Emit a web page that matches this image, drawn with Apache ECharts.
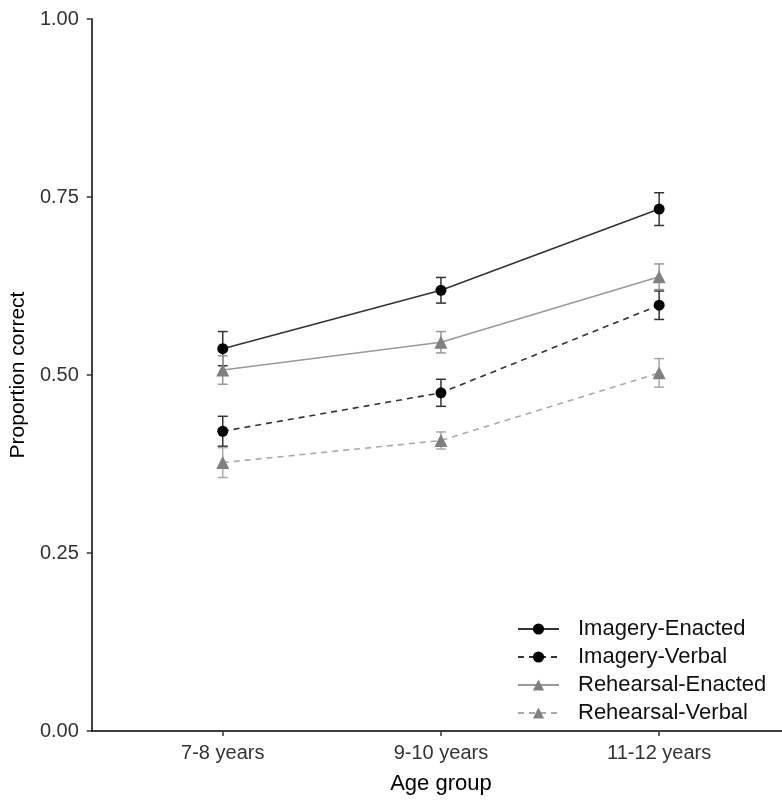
<!DOCTYPE html>
<html>
<head>
<meta charset="utf-8">
<script src="https://cdn.jsdelivr.net/npm/echarts@6/dist/echarts.min.js"></script>
<style>
html,body{margin:0;padding:0;background:#fff;}
#chart{width:782px;height:800px;}
</style>
</head>
<body>
<div id="chart"></div>
<script>
const categories = ['7-8 years', '9-10 years', '11-12 years'];
const yTicks = [0, 0.25, 0.5, 0.75, 1];
const seriesNames = ['Imagery-Enacted', 'Imagery-Verbal', 'Rehearsal-Enacted', 'Rehearsal-Verbal'];
const imageryEnacted = [0.537, 0.619, 0.733];
const imageryEnactedErr = [0.024, 0.018, 0.023];
const imageryVerbal = [0.421, 0.475, 0.598];
const imageryVerbalErr = [0.021, 0.019, 0.020];
const rehearsalEnacted = [0.507, 0.546, 0.638];
const rehearsalEnactedErr = [0.020, 0.015, 0.018];
const rehearsalVerbal = [0.377, 0.408, 0.503];
const rehearsalVerbalErr = [0.021, 0.012, 0.020];

const FONT = 'Liberation Sans, Arial, sans-serif';

const styles = [
  { line: '#333333', marker: '#000000', bar: '#333333', dash: 'solid', symbol: 'circle', size: 11 },
  { line: '#333333', marker: '#000000', bar: '#333333', dash: [6, 5], symbol: 'circle', size: 11 },
  { line: '#999999', marker: '#808080', bar: '#999999', dash: 'solid', symbol: 'triangle', size: 13 },
  { line: '#aaaaaa', marker: '#808080', bar: '#aaaaaa', dash: [6, 5], symbol: 'triangle', size: 13 }
];
const means = [imageryEnacted, imageryVerbal, rehearsalEnacted, rehearsalVerbal];
const errs = [imageryEnactedErr, imageryVerbalErr, rehearsalEnactedErr, rehearsalVerbalErr];

const series = [];
// error bars
means.forEach((m, s) => {
  series.push({
    type: 'custom',
    name: seriesNames[s] + ' err',
    silent: true,
    z: 2,
    data: m.map((v, i) => [i + 1, v, v - errs[s][i], v + errs[s][i]]),
    renderItem: function (params, api) {
      const x = api.value(0);
      const lo = api.coord([x, api.value(2)]);
      const hi = api.coord([x, api.value(3)]);
      const hw = 5;
      const st = { stroke: styles[s].bar, lineWidth: 1.5, fill: null };
      return {
        type: 'group',
        children: [
          { type: 'line', shape: { x1: lo[0], y1: lo[1], x2: hi[0], y2: hi[1] }, style: st },
          { type: 'line', shape: { x1: lo[0] - hw, y1: lo[1], x2: lo[0] + hw, y2: lo[1] }, style: st },
          { type: 'line', shape: { x1: hi[0] - hw, y1: hi[1], x2: hi[0] + hw, y2: hi[1] }, style: st }
        ]
      };
    }
  });
});
// lines
means.forEach((m, s) => {
  series.push({
    type: 'line',
    name: seriesNames[s],
    z: 3,
    data: m.map((v, i) => [i + 1, v]),
    symbol: styles[s].symbol,
    symbolSize: styles[s].size,
    showSymbol: true,
    lineStyle: { color: styles[s].line, width: 1.6, type: styles[s].dash },
    itemStyle: { color: styles[s].marker, borderWidth: 0 },
    emphasis: { disabled: true },
    animation: false
  });
});

const chart = echarts.init(document.getElementById('chart'), null, { renderer: 'canvas' });
chart.setOption({
  animation: false,
  backgroundColor: '#ffffff',
  grid: { left: 91, right: 0, top: 19, bottom: 69, containLabel: false },
  xAxis: {
    type: 'value',
    min: 0.4,
    max: 3.563,
    name: 'Age group',
    nameLocation: 'middle',
    nameGap: 42,
    nameTextStyle: { fontFamily: FONT, fontSize: 22, color: '#000', padding: [0, 0, 0, 8] },
    splitLine: { show: false },
    axisLine: { show: true, onZero: false, lineStyle: { color: '#000', width: 1.5 } },
    axisTick: { show: true, length: 5, lineStyle: { color: '#333', width: 1.5 }, customValues: [1, 2, 3] },
    axisLabel: {
      customValues: [1, 2, 3],
      formatter: v => categories[Math.round(v) - 1],
      fontFamily: FONT, fontSize: 20, color: '#333', margin: 12
    }
  },
  yAxis: {
    type: 'value',
    min: 0,
    max: 1,
    interval: 0.25,
    name: 'Proportion correct',
    nameLocation: 'middle',
    nameGap: 58,
    nameTextStyle: { fontFamily: FONT, fontSize: 21, color: '#000' },
    splitLine: { show: false },
    axisLine: { show: true, onZero: false, lineStyle: { color: '#000', width: 1.5 } },
    axisTick: { show: true, length: 5, lineStyle: { color: '#333', width: 1.5 } },
    axisLabel: {
      formatter: v => yTicks.indexOf(v) >= 0 ? v.toFixed(2) : '',
      fontFamily: FONT, fontSize: 20, color: '#333', margin: 13
    }
  },
  legend: {
    data: seriesNames,
    orient: 'vertical',
    left: 512,
    top: 610,
    itemWidth: 41,
    itemHeight: 14,
    itemGap: 0,
    selectedMode: false,
    textStyle: { fontFamily: FONT, fontSize: 22, color: '#111', lineHeight: 28, padding: [0, 0, 0, 14] }
  },
  series: series
});
</script>
</body>
</html>
